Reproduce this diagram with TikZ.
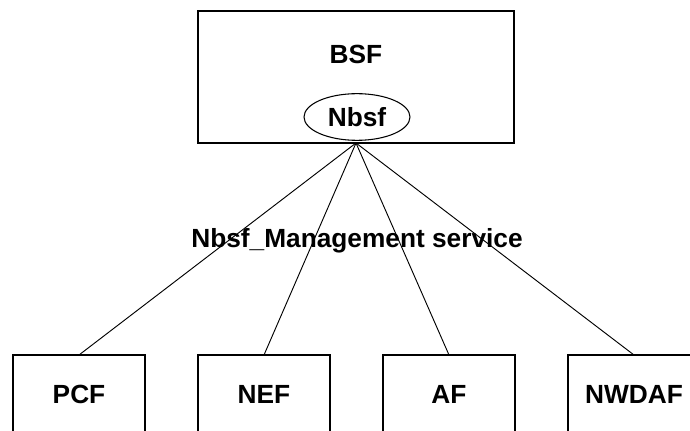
\documentclass[tikz,border=0pt]{standalone}
\usepackage{fontspec}
\setmainfont{Liberation Sans}
\usetikzlibrary{shapes.geometric,positioning}

\begin{document}
\begin{tikzpicture}[x=0.75pt, y=-0.75pt,
    font=\fontsize{19.7}{23}\selectfont\bfseries,
    nf/.style={draw, thick, inner sep=0pt, outer sep=0pt, minimum width=99pt, text height=36pt, text depth=50pt},
    link/.style={draw, line width=0.7pt}]

    \useasboundingbox (0,0) rectangle (690,431);

    \node[draw, thick, anchor=north, inner sep=0pt, outer sep=0pt, minimum width=237pt, text height=39.75pt, text depth=59.25pt] (bsf) at (356,11) {BSF};
    \node[draw, thick, ellipse, inner sep=0pt, minimum width=79.5pt, minimum height=35pt] (nbsf) at (357,117) {Nbsf};
    \node (svc) at (357,241) {Nbsf\_Management service};

    \node[nf, anchor=north] (pcf) at (79,355) {PCF};
    \node[nf, right=39.75pt of pcf] (nef) {NEF};
    \node[nf, right=39.75pt of nef] (af) {AF};
    \node[nf, right=39.75pt of af] (nwdaf) {NWDAF};

    \foreach \n in {pcf,nef,af,nwdaf}
        \draw[link] (bsf.south) -- (\n.north);
\end{tikzpicture}
\end{document}
